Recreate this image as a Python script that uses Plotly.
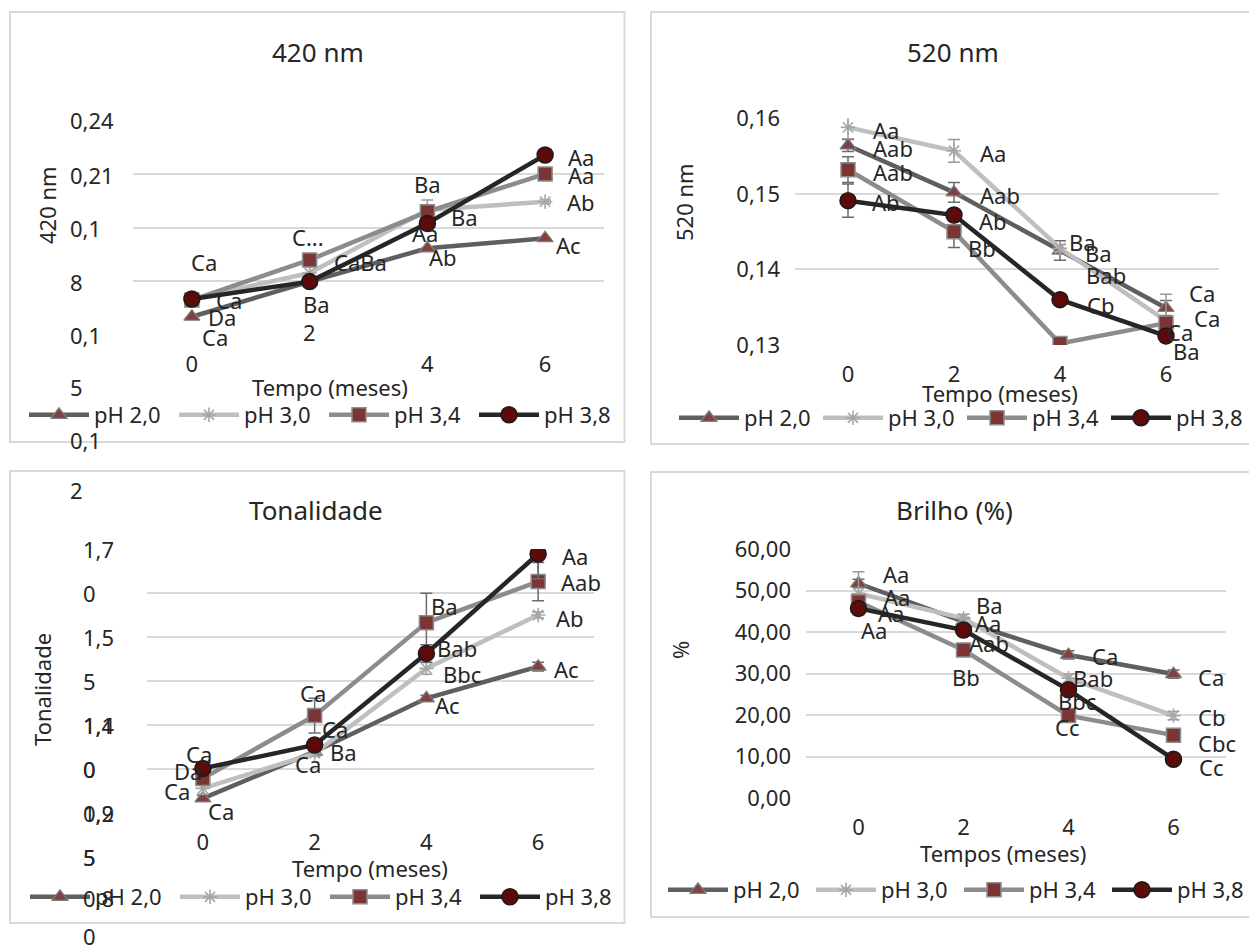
import plotly.graph_objects as go

W, H = 1249, 952
FONT = "Noto Sans"
TXT = "#262626"

# ---------------- data ----------------
months = [0, 2, 4, 6]
series_names = ["pH 2,0", "pH 3,0", "pH 3,4", "pH 3,8"]

# 420 nm
a420_ph20 = [0.1302, 0.1498, 0.1684, 0.1740]
a420_ph30 = [0.1401, 0.1546, 0.1898, 0.1944]
a420_ph34 = [0.1395, 0.1619, 0.1888, 0.2099]
a420_ph38 = [0.1401, 0.1498, 0.1823, 0.2205]
a420_err_ph20 = [0.0, 0.0, 0.0, 0.0]
a420_err_ph30 = [0.0010, 0.0036, 0.0056, 0.0010]
a420_err_ph34 = [0.0, 0.0, 0.0, 0.0]
a420_err_ph38 = [0.0, 0.0, 0.0, 0.0]

# 520 nm
a520_ph20 = [0.1564, 0.1502, 0.1425, 0.1349]
a520_ph30 = [0.1588, 0.1557, 0.1428, 0.1332]
a520_ph34 = [0.1532, 0.1450, 0.1302, 0.1329]
a520_ph38 = [0.1491, 0.1472, 0.1360, 0.1312]
a520_err_ph20 = [0.0008, 0.0013, 0.0013, 0.0010]
a520_err_ph30 = [0.0015, 0.0015, 0.0005, 0.0035]
a520_err_ph34 = [0.0017, 0.0021, 0.0005, 0.0008]
a520_err_ph38 = [0.0022, 0.0005, 0.0005, 0.0008]

# Tonalidade
ton_ph20 = [0.850, 1.009, 1.191, 1.299]
ton_ph30 = [0.884, 1.003, 1.293, 1.475]
ton_ph34 = [0.918, 1.132, 1.449, 1.589]
ton_ph38 = [0.952, 1.032, 1.344, 1.683]
ton_err_ph20 = [0.010, 0.010, 0.010, 0.015]
ton_err_ph30 = [0.020, 0.010, 0.020, 0.010]
ton_err_ph34 = [0.015, 0.059, 0.100, 0.065]
ton_err_ph38 = [0.010, 0.020, 0.030, 0.084]

# Brilho (%)
bri_ph20 = [51.7, 42.5, 34.5, 29.9]
bri_ph30 = [49.3, 43.3, 28.9, 19.9]
bri_ph34 = [47.3, 35.7, 19.9, 15.2]
bri_ph38 = [45.7, 40.5, 26.1, 9.4]
bri_err_ph20 = [1.0, 1.0, 1.0, 1.0]
bri_err_ph30 = [5.2, 1.0, 1.0, 1.0]
bri_err_ph34 = [1.0, 1.0, 1.0, 1.0]
bri_err_ph38 = [1.0, 1.0, 1.0, 1.0]

# letters (statistical labels)
lab420 = ["Ca", "Ca", "Da", "Ca", "C...", "CaBa", "Ba", "Ba", "Ba", "Aa", "Ab", "Aa", "Aa", "Ab", "Ac"]
lab520 = ["Aa", "Aab", "Aab", "Ab", "Aa", "Aab", "Ab", "Bb", "Ba", "Ba", "Bab", "Cb", "Ca", "Ca", "Ca", "Ba"]
labton = ["Ca", "Da", "Ca", "Ca", "Ca", "Ca", "Ba", "Ca", "Ba", "Bab", "Bbc", "Ac", "Aa", "Aab", "Ab", "Ac"]
labbri = ["Aa", "Aa", "Aa", "Aa", "Ba", "Aa", "Aab", "Bb", "Ca", "Bab", "Bbc", "Cc", "Ca", "Cb", "Cbc", "Cc"]

# tick labels
x_ticks = ["0", "2", "4", "6"]
y420_ticks = ["0,24", "0,21", "0,1", "8", "0,1", "5", "0,1"]
y520_vals = [0.13, 0.14, 0.15, 0.16]
y520_ticks = ["0,13", "0,14", "0,15", "0,16"]
yton_ticks = ["2", "1,7", "0", "1,5", "5", "1,4", "1,1", "0", "0", "0,9", "1,2", "5", "5", "0,8", "0"]
ybri_vals = [0, 10, 20, 30, 40, 50, 60]
ybri_ticks = ["0,00", "10,00", "20,00", "30,00", "40,00", "50,00", "60,00"]

# ---------------- layout helpers (pixel positions) ----------------
def px(x):
    return x / W


def py(y):
    return 1 - y / H


def ann(text, x, y, size=22, xanchor="center", yanchor="middle", angle=0, color=TXT):
    return dict(text=text, x=px(x), y=py(y), xref="paper", yref="paper",
                showarrow=False, font=dict(family=FONT, size=size, color=color),
                xanchor=xanchor, yanchor=yanchor, textangle=angle)


styles = [
    dict(line=dict(color="#5f5f5f", width=4.5),
         marker=dict(symbol="triangle-up", size=14, color="#7e4242",
                     line=dict(color="#808080", width=1.2)),
         err="#6b6b6b"),
    dict(line=dict(color="#bfbfbf", width=4.5),
         marker=dict(symbol="asterisk-open", size=12, color="#a6a6a6",
                     line=dict(color="#a6a6a6", width=1.6)),
         err="#9a9a9a"),
    dict(line=dict(color="#8c8c8c", width=4.5),
         marker=dict(symbol="square", size=14, color="#7b3535",
                     line=dict(color="#8c8c8c", width=1.5)),
         err="#6b6b6b"),
    dict(line=dict(color="#262626", width=4.5),
         marker=dict(symbol="circle", size=16, color="#5c0a0a",
                     line=dict(color="#1a1a1a", width=1.5)),
         err="#6b6b6b"),
]

panels = [
    dict(ax="", series=[a420_ph20, a420_ph30, a420_ph34, a420_ph38],
         errs=[a420_err_ph20, a420_err_ph30, a420_err_ph34, a420_err_ph38],
         xd=(133, 604), yd=(120, 335), yr=(0.12, 0.24), legend="legend",
         leg_x=24, leg_y=415, entry=75),
    dict(ax="2", series=[a520_ph20, a520_ph30, a520_ph34, a520_ph38],
         errs=[a520_err_ph20, a520_err_ph30, a520_err_ph34, a520_err_ph38],
         xd=(795, 1219), yd=(118.3, 345), yr=(0.13, 0.16), legend="legend2",
         leg_x=674, leg_y=418, entry=69),
    dict(ax="3", series=[ton_ph20, ton_ph30, ton_ph34, ton_ph38],
         errs=[ton_err_ph20, ton_err_ph30, ton_err_ph34, ton_err_ph38],
         xd=(147, 594), yd=(549, 813), yr=(0.80, 1.70), legend="legend3",
         leg_x=25, leg_y=897, entry=75),
    dict(ax="4", series=[bri_ph20, bri_ph30, bri_ph34, bri_ph38],
         errs=[bri_err_ph20, bri_err_ph30, bri_err_ph34, bri_err_ph38],
         xd=(806, 1226), yd=(549, 798.3), yr=(0, 60), legend="legend4",
         leg_x=663, leg_y=890, entry=73),
]

fig = go.Figure()
layout = dict(width=W, height=H, margin=dict(l=0, r=0, t=0, b=0, pad=0, autoexpand=False),
              paper_bgcolor="white", plot_bgcolor="white",
              font=dict(family=FONT, size=22, color=TXT), showlegend=True)

for p in panels:
    for i, (vals, err) in enumerate(zip(p["series"], p["errs"])):
        st = styles[i]
        tr = go.Scatter(
            x=months, y=vals, name=series_names[i], mode="lines+markers",
            line=st["line"], marker=st["marker"],
            error_y=dict(type="data", array=err, visible=True, color=st["err"],
                         thickness=1.5, width=6),
            xaxis="x" + p["ax"], yaxis="y" + p["ax"], legend=p["legend"],
        )
        if i == 3:
            tr.update(legendwidth=66)
        fig.add_trace(tr)

    xa = "xaxis" + p["ax"]
    ya = "yaxis" + p["ax"]
    layout[xa] = dict(domain=[px(p["xd"][0]), px(p["xd"][1])], range=[-1, 7],
                      anchor="y" + p["ax"], showgrid=False, zeroline=False,
                      showline=False, ticks="", tickvals=months, ticktext=x_ticks,
                      tickfont=dict(family=FONT, size=22, color=TXT),
                      ticklabelstandoff=14, fixedrange=True, automargin=False)
    layout[ya] = dict(domain=[py(p["yd"][1]), py(p["yd"][0])], range=list(p["yr"]),
                      anchor="x" + p["ax"], showgrid=True, gridcolor="#d9d9d9",
                      gridwidth=1.5, zeroline=False, showline=False, ticks="",
                      tickfont=dict(family=FONT, size=22, color=TXT),
                      ticklabelstandoff=14, fixedrange=True, automargin=False)
    layout[p["legend"]] = dict(orientation="h", x=px(p["leg_x"]), y=py(p["leg_y"]),
                               xanchor="left", yanchor="middle", entrywidth=p["entry"],
                               itemwidth=60, bgcolor="rgba(0,0,0,0)",
                               font=dict(family=FONT, size=22, color=TXT))

# panel 1: garbled y ticks, missing "2" x tick
layout["xaxis"]["tickvals"] = [0, 4, 6]
layout["xaxis"]["ticktext"] = ["0", "4", "6"]
layout["yaxis"]["tickvals"] = [0.12, 0.15, 0.18, 0.21, 0.24]
layout["yaxis"]["showticklabels"] = False
layout["yaxis2"]["tickvals"] = y520_vals
layout["yaxis2"]["ticktext"] = y520_ticks
layout["yaxis3"]["tickvals"] = [0.80, 0.95, 1.10, 1.25, 1.40, 1.55, 1.70]
layout["yaxis3"]["showticklabels"] = False
layout["yaxis4"]["tickvals"] = ybri_vals
layout["yaxis4"]["ticktext"] = ybri_ticks

# panel borders
shapes = []
BORDER = dict(color="#d9d9d9", width=2)
for (x0, y0, x1, y1) in [(10, 12, 624.5, 442), (10, 471, 624.5, 923)]:
    shapes.append(dict(type="rect", xref="paper", yref="paper",
                       x0=px(x0), x1=px(x1), y0=py(y1), y1=py(y0),
                       line=BORDER, fillcolor="rgba(0,0,0,0)", layer="below"))
# right-hand panels: open frame, the right side lies past the picture's edge
for (x0, y0, y1) in [(651, 12, 444), (651, 472, 917)]:
    path = "M{a},{b} L{c},{b} L{c},{d} L{a},{d}".format(
        a=px(W + 2), b=py(y0), c=px(x0), d=py(y1))
    shapes.append(dict(type="path", xref="paper", yref="paper", path=path,
                       line=BORDER, fillcolor="rgba(0,0,0,0)", layer="below"))
layout["shapes"] = shapes

annots = []
# chart titles
annots.append(ann("420 nm", 318, 52, size=26))
annots.append(ann("520 nm", 953, 52, size=26))
annots.append(ann("Tonalidade", 316, 510, size=26))
annots.append(ann("Brilho (%)", 954, 510, size=26))
# axis titles
annots.append(ann("420 nm", 47, 205, angle=-90))
annots.append(ann("520 nm", 684, 202, angle=-90))
annots.append(ann("Tonalidade", 42, 690, angle=-90))
annots.append(ann("%", 680, 650, angle=-90))
annots.append(ann("Tempo (meses)", 330, 387))
annots.append(ann("Tempo (meses)", 1000, 393))
annots.append(ann("Tempo (meses)", 370, 868))
annots.append(ann("Tempos (meses)", 1003, 853))

# panel 1 garbled tick labels
y420_pos = [(68, 120), (68, 175), (68, 228), (68, 282), (68, 335), (68, 387), (68, 440)]
for t, (x, y) in zip(y420_ticks, y420_pos):
    annots.append(ann(t, x, y, xanchor="left"))
annots.append(ann(x_ticks[1], 309, 332))

# panel 3 garbled tick labels
yton_pos = [(68, 490), (81, 549), (81, 593), (81, 637), (81, 681), (81, 725), (81, 725),
            (81, 769), (81, 769), (81, 813), (81, 813), (81, 857), (81, 857), (81, 898),
            (81, 936)]
for t, (x, y) in zip(yton_ticks, yton_pos):
    annots.append(ann(t, x, y, xanchor="left"))

# data labels
pos420 = [(204, 262), (229, 300), (222, 317), (215, 337), (308, 237), (360, 262),
          (316, 304), (428, 184), (464, 217), (425, 233), (443, 257), (581, 157),
          (581, 175), (581, 202), (568, 245)]
pos520 = [(886, 130), (893, 148), (893, 172), (886, 202), (993, 153), (1000, 195),
          (993, 221), (982, 248), (1082, 242), (1098, 253), (1106, 275), (1100, 305),
          (1202, 293), (1207, 318), (1180, 332), (1186, 351)]
poston = [(199, 754), (188, 771), (177, 791), (221, 811), (313, 693), (335, 729),
          (344, 752), (308, 764), (444, 606), (457, 648), (462, 674), (447, 705),
          (575, 556), (581, 582), (570, 618), (566, 669)]
posbri = [(896, 574), (897, 597), (891, 613), (874, 630), (990, 605), (988, 623),
          (989, 643), (966, 677), (1105, 656), (1093, 678), (1077, 701), (1067, 727),
          (1211, 677), (1211, 717), (1217, 743), (1211, 767)]
for labs, poss in [(lab420, pos420), (lab520, pos520), (labton, poston), (labbri, posbri)]:
    for t, (x, y) in zip(labs, poss):
        annots.append(ann(t, x, y))

layout["annotations"] = annots
fig.update_layout(**layout)
fig.write_html("out.html", config={"displayModeBar": False},
               post_script="document.body.style.margin='0px';")
